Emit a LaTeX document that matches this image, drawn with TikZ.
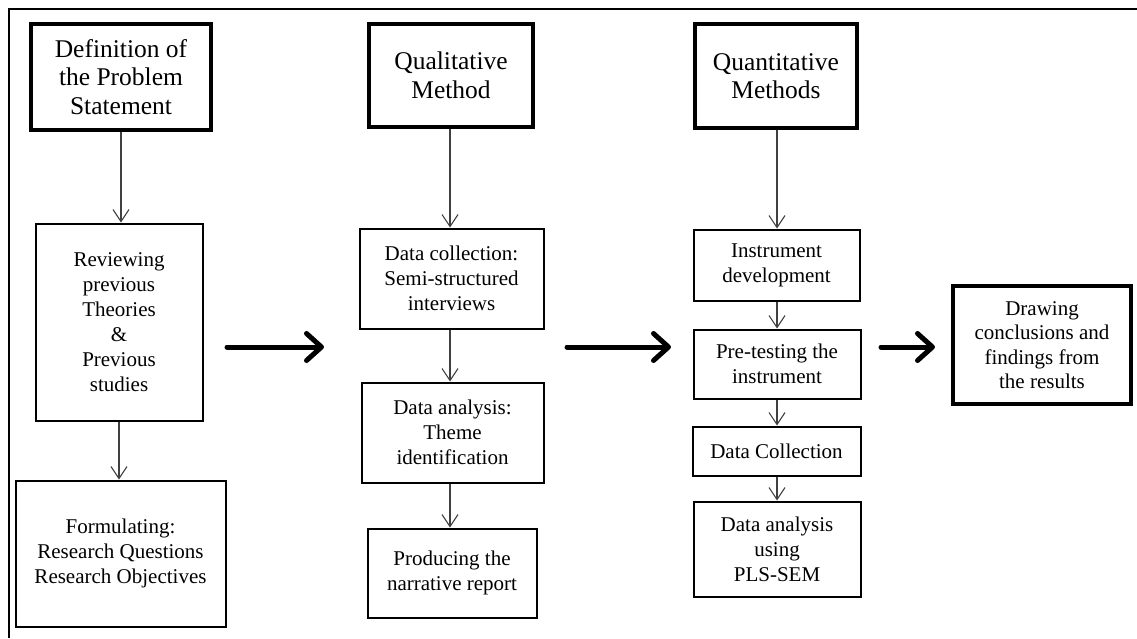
\documentclass[tikz,border=0pt]{standalone}
\usepackage{fontspec}
\setmainfont{Liberation Serif}
\usetikzlibrary{arrows.meta}
\begin{document}
\begin{tikzpicture}[x=1pt,y=-1pt,
  stage/.style={draw, line width=4.5pt, align=center, inner sep=0pt,
    font=\fontsize{25.5}{28.5}\selectfont},
  stepbox/.style={draw, line width=2pt, align=center, inner sep=0pt,
    font=\fontsize{21}{25}\selectfont},
  link/.style={draw=black!75, line width=1.1pt,
    -{Straight Barb[length=12pt,width=16pt]}},
  flow/.style={line width=5pt, line cap=round,
    -{Straight Barb[length=15pt,width=27pt,round]}},
]
\useasboundingbox (0,0) rectangle (1137,638);

% frame
\draw[line width=2.5pt] (8.25,9) -- (1137,9);
\draw[line width=1.5pt] (9,9) -- (9,638);

% column 1: problem statement
\node[stage, minimum width=180pt, minimum height=106pt] (def) at (121,77)
  {Definition of\\the Problem\\Statement};
\node[stepbox, minimum width=167pt, minimum height=197pt] (rev) at (119,322)
  {Reviewing\\previous\\Theories\\\&\\Previous\\studies};
\node[stepbox, minimum width=210pt, minimum height=146pt] (form) at (120.5,553.5)
  {\rule{0pt}{4pt}Formulating:\\Research Questions\\Research Objectives};

% column 2: qualitative method
\node[stage, minimum width=164pt, minimum height=103pt] (qual) at (451,75.5)
  {Qualitative\\Method};
\node[stepbox, minimum width=184pt, minimum height=100pt] (dcol) at (451.5,278.5)
  {Data collection:\\Semi-structured\\interviews};
\node[stepbox, minimum width=182pt, minimum height=100pt] (dana) at (452.5,432.5)
  {Data analysis:\\Theme\\identification};
\node[stepbox, minimum width=169pt, minimum height=89pt] (prod) at (452,573)
  {\rule{0pt}{4pt}Producing the\\narrative report};

% column 3: quantitative methods
\node[stage, minimum width=162pt, minimum height=104pt] (quant) at (776,76)
  {Quantitative\\Methods};
\node[stepbox, minimum width=166pt, minimum height=71pt] (inst) at (776.5,265)
  {Instrument\\development};
\node[stepbox, minimum width=167pt, minimum height=69pt] (pret) at (777,364)
  {Pre-testing the\\instrument};
\node[stepbox, minimum width=168pt, minimum height=49pt] (dcoll) at (776.5,451)
  {Data Collection};
\node[stepbox, minimum width=167pt, minimum height=95pt] (pls) at (777,549)
  {Data analysis\\using\\PLS-SEM};

% conclusions
\node[stage, minimum width=178pt, minimum height=118pt,
  font=\fontsize{21}{24.5}\selectfont] (concl) at (1042,345)
  {Drawing\\conclusions and\\findings from\\the results};

% connectors within columns
\draw[link] (def.south) -- (def.south |- rev.north);
\draw[link] (rev.south) -- (rev.south |- form.north);
\draw[link] ([xshift=-1pt]qual.south) -- ([xshift=-1pt]qual.south |- dcol.north);
\draw[link] ([xshift=-1pt]qual.south |- dcol.south) -- ([xshift=-1pt]qual.south |- dana.north);
\draw[link] ([xshift=-1pt]qual.south |- dana.south) -- ([xshift=-1pt]qual.south |- prod.north);
\draw[link] ([xshift=1pt]quant.south) -- ([xshift=1pt]quant.south |- inst.north);
\draw[link] ([xshift=1pt]quant.south |- inst.south) -- ([xshift=1pt]quant.south |- pret.north);
\draw[link] ([xshift=1pt]quant.south |- pret.south) -- ([xshift=1pt]quant.south |- dcoll.north);
\draw[link] ([xshift=1pt]quant.south |- dcoll.south) -- ([xshift=1pt]quant.south |- pls.north);

% transitions between phases
\coordinate (t1s) at (227,347);
\coordinate (t1e) at (324,347);
\coordinate (t2s) at (567,347);
\coordinate (t2e) at (671,347);
\coordinate (t3s) at (881,347);
\coordinate (t3e) at (935,347);
\draw[flow] (t1s) -- (t1e);
\draw[flow] (t2s) -- (t2e);
\draw[flow] (t3s) -- (t3e);
\end{tikzpicture}
\end{document}
